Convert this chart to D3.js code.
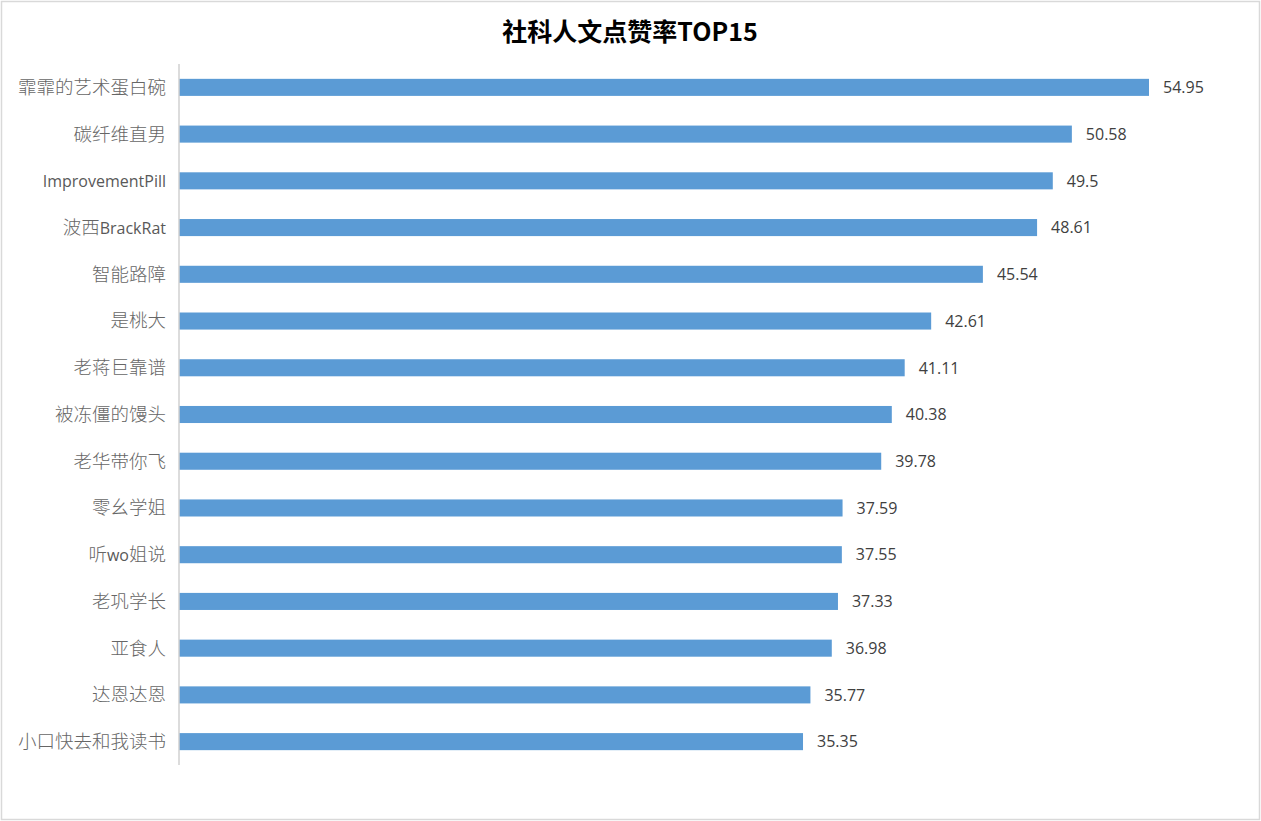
<!DOCTYPE html>
<html>
<head>
<meta charset="utf-8">
<script src="https://cdn.jsdelivr.net/npm/d3@7"></script>
<style>
  body { margin: 0; background: #fff; }
  svg { display: block; }
</style>
</head>
<body>
<script>
const wdth = 1261;
const hght = 821;

const names = [
  "霏霏的艺术蛋白碗", "碳纤维直男", "ImprovementPill", "波西BrackRat", "智能路障",
  "是桃大", "老蒋巨靠谱", "被冻僵的馒头", "老华带你飞", "零幺学姐",
  "听wo姐说", "老巩学长", "亚食人", "达恩达恩", "小口快去和我读书"
];
const rates = [54.95, 50.58, 49.5, 48.61, 45.54, 42.61, 41.11, 40.38, 39.78, 37.59, 37.55, 37.33, 36.98, 35.77, 35.35];
const chartTitle = "社科人文点赞率TOP15";

const plotLeft = 179, plotTop = 64, plotBottom = 765;
const plotRight = 1149;

const svg = d3.select("body").append("svg")
  .attr("width", wdth)
  .attr("height", hght);

// chart border
svg.append("rect")
  .attr("x", 1.5).attr("y", 1.5)
  .attr("width", wdth - 3).attr("height", hght - 3)
  .attr("fill", "#fff")
  .attr("stroke", "#d9d9d9")
  .attr("stroke-width", 1.5);

svg.append("text")
  .text(chartTitle)
  .attr("x", 630)
  .attr("y", 41)
  .attr("text-anchor", "middle")
  .attr("font-family", "'Noto Sans CJK SC', 'Open Sans', sans-serif")
  .attr("font-size", "25px")
  .attr("font-weight", "bold")
  .attr("fill", "#000");

const x = d3.scaleLinear().domain([0, rates[0]]).range([plotLeft, plotRight]);
const y = d3.scaleBand().domain(names).range([plotTop, plotBottom]).paddingInner(0.635).paddingOuter(0.3175);

svg.selectAll(".bar")
  .data(names)
  .enter()
  .append("rect")
  .attr("class", "bar")
  .attr("x", x(0))
  .attr("y", d => y(d))
  .attr("width", (d, i) => x(rates[i]) - x(0))
  .attr("height", y.bandwidth())
  .attr("fill", "#5b9bd5");

svg.selectAll(".val")
  .data(names)
  .enter()
  .append("text")
  .attr("class", "val")
  .text((d, i) => rates[i])
  .attr("x", (d, i) => x(rates[i]) + 14)
  .attr("y", d => y(d) + y.bandwidth() / 2)
  .attr("dy", "0.36em")
  .attr("font-family", "'Open Sans', 'Noto Sans', sans-serif")
  .attr("font-size", "16px")
  .attr("fill", "#404040");

const yAxis = svg.append("g")
  .attr("transform", "translate(" + plotLeft + ",0)")
  .call(d3.axisLeft(y).tickSize(0).tickPadding(13));

yAxis.select(".domain")
  .attr("stroke", "#d0d0d0")
  .attr("stroke-width", 1.5)
  .attr("d", "M0," + plotTop + "V" + plotBottom);

// split labels into CJK / latin runs, CJK glyphs a bit bigger like the original
yAxis.selectAll("text")
  .attr("font-family", "'Open Sans', 'Noto Sans CJK SC', sans-serif")
  .attr("font-size", "16px")
  .attr("fill", "#595959")
  .attr("dy", "0.4em")
  .each(function (d) {
    const t = d3.select(this);
    t.text(null);
    const runs = d.match(/[\u4e00-\u9fff]+|[^\u4e00-\u9fff]+/g);
    runs.forEach(r => {
      const cjk = /[\u4e00-\u9fff]/.test(r);
      t.append("tspan")
        .text(r)
        .attr("font-family", cjk ? "'Noto Sans CJK SC', sans-serif" : "'Open Sans', sans-serif")
        .attr("font-size", cjk ? "18.5px" : "16px")
        .attr("font-weight", cjk ? 300 : 400)
        .attr("fill", cjk ? "#666" : "#595959");
    });
  });
</script>
</body>
</html>
